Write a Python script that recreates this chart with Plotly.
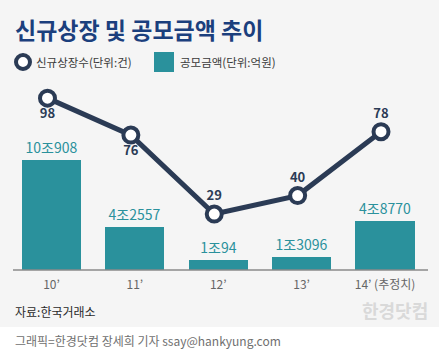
import plotly.graph_objects as go

years = ["10’", "11’", "12’", "13’", "14’ (추정치)"]
listings = [98, 76, 29, 40, 78]
amounts_jo = [10.9081, 4.2557, 1.0094, 1.3096, 4.8770]
amount_labels = ["10조908", "4조2557", "1조94", "1조3096", "4조8770"]
listing_pos = ["bottom center", "bottom center", "top center", "top center", "top center"]

W, H = 439, 351
FONT = "Noto Sans CJK KR"
NAVY = "#2b3b55"
TEAL = "#2a919c"
BG = "#f5f5f5"

xs = list(range(len(years)))
unit = 83.4
xr = [-51.5 / unit, 4 + (W - 385) / unit]
shift = 4 / unit
base_frac = (H - 270) / H

fig = go.Figure()
fig.add_trace(go.Bar(
    x=xs, y=amounts_jo, width=0.71, marker=dict(color=TEAL, line=dict(width=0)),
    text=amount_labels, textposition="outside", cliponaxis=False,
    textfont=dict(color=TEAL, size=14, family=FONT), showlegend=False,
    xaxis="x", yaxis="y"))
fig.add_trace(go.Scatter(
    x=xs, y=listings, mode="lines+markers+text", text=[str(v) for v in listings],
    textposition=listing_pos, cliponaxis=False,
    textfont=dict(color=NAVY, size=13, family=FONT, weight="bold"),
    line=dict(color=NAVY, width=5),
    marker=dict(size=15, color="white", line=dict(color=NAVY, width=4)),
    showlegend=False, xaxis="x2", yaxis="y2"))

fig.update_layout(
    width=W, height=H, margin=dict(l=0, r=0, t=0, b=0),
    paper_bgcolor=BG, plot_bgcolor="rgba(0,0,0,0)", bargap=0,
    font=dict(family=FONT),
    xaxis=dict(domain=[0, 1], range=xr, tickmode="array", tickvals=xs, ticktext=years,
               showgrid=False, zeroline=False, showline=False, ticks="",
               ticklabelstandoff=6,
               tickfont=dict(size=12, color="#666", family=FONT), fixedrange=True),
    xaxis2=dict(domain=[0, 1], range=[xr[0] + shift, xr[1] + shift], overlaying="x",
                visible=False, anchor="y2"),
    yaxis=dict(domain=[base_frac, 1], range=[0, 270 / 10.1], visible=False),
    yaxis2=dict(domain=[base_frac, 1], range=[-4.29, 156.4], overlaying="y",
                visible=False, anchor="x2"),
)

shapes = [
    dict(type="rect", xref="paper", yref="paper", x0=0, x1=1, y0=0, y1=(H - 327) / H,
         fillcolor="white", line=dict(width=0), layer="below"),
    dict(type="line", xref="paper", yref="paper", x0=13 / W, x1=428 / W,
         y0=base_frac, y1=base_frac, line=dict(color="#8a8a8a", width=1.5)),
    # legend symbols
    dict(type="circle", xref="paper", yref="paper", x0=16 / W, x1=30 / W,
         y0=(H - 69) / H, y1=(H - 55) / H, fillcolor="white", line=dict(color=NAVY, width=4)),
    dict(type="rect", xref="paper", yref="paper", x0=154 / W, x1=174 / W,
         y0=(H - 72) / H, y1=(H - 52) / H, fillcolor=TEAL, line=dict(width=0)),
]
fig.update_layout(shapes=shapes)

def ann(text, x, y, size, color, xanchor="left", bold=False):
    fig.add_annotation(text=text, xref="paper", yref="paper", x=x / W, y=(H - y) / H,
                       xanchor=xanchor, yanchor="middle", showarrow=False,
                       font=dict(size=size, color=color, family=FONT,
                                 weight="bold" if bold else "normal"))

ann("신규상장 및 공모금액 추이", 13, 29, 23, "#1b3f7d", bold=True)
ann("신규상장수(단위:건)", 34, 62, 11.5, "#3a3a3a")
ann("공모금액(단위:억원)", 178, 62, 11.5, "#3a3a3a")
ann("자료:한국거래소", 13, 311, 12, "#2a2a2a")
ann("한경닷컴", 430, 310, 18, "#d9d9d9", xanchor="right", bold=True)
ann("그래픽=한경닷컴 장세희 기자 ssay@hankyung.com", 13, 340, 12, "#707070")

fig.write_html("out.html")
